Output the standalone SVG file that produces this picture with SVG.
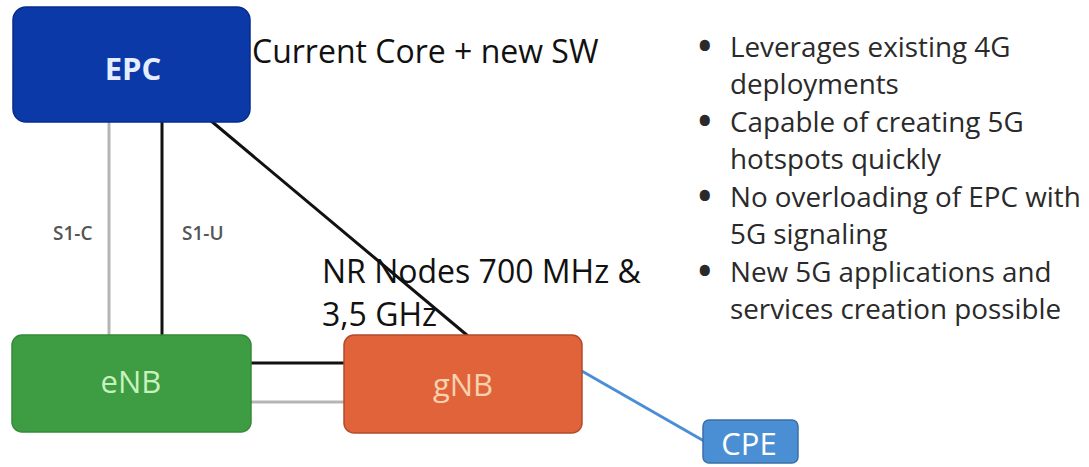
<svg xmlns="http://www.w3.org/2000/svg" width="1089" height="467" viewBox="0 0 1089 467">
  <style>
    text { font-family: "Open Sans", "Noto Sans", "Liberation Sans", sans-serif; }
    .node-label { font-size: 31px; text-anchor: middle; dominant-baseline: central; }
    .note { font-size: 32px; fill: #111; }
    .bullets { font-size: 27.8px; fill: #2a2a2a; }
    .dot { font-size: 36px; font-weight: 700; }
    .iface { font-size: 19px; fill: #555; font-weight: 600; }
  </style>

  <rect width="1089" height="467" fill="#ffffff"/>

  <!-- connectors -->
  <g id="connectors" fill="none">
    <line x1="109" y1="122" x2="109" y2="335" stroke="#b5b5b5" stroke-width="3"/>
    <line x1="162" y1="122" x2="162" y2="335" stroke="#111" stroke-width="3"/>
    <line x1="210" y1="120" x2="468" y2="336" stroke="#111" stroke-width="3"/>
    <line x1="250" y1="363" x2="344" y2="363" stroke="#111" stroke-width="3"/>
    <line x1="250" y1="402" x2="344" y2="402" stroke="#b5b5b5" stroke-width="3"/>
    <line x1="580" y1="370" x2="704" y2="441" stroke="#4a8fd6" stroke-width="3"/>
  </g>

  <!-- interface labels -->
  <text class="iface" x="53" y="240">S1-C</text>
  <text class="iface" x="182" y="240">S1-U</text>

  <g id="epc">
    <rect x="13" y="7" width="237" height="115" rx="13" fill="#0b3aa8" stroke="#092c86" stroke-width="1.5"/>
    <text class="node-label" x="133" y="68" fill="#e4eeff" font-weight="700">EPC</text>
  </g>

  <g id="enb">
    <rect x="12" y="335" width="239" height="97" rx="10" fill="#3e9c42" stroke="#358a39" stroke-width="1.5"/>
    <text class="node-label" x="131" y="381" fill="#c8f2bd">eNB</text>
  </g>

  <g id="gnb">
    <rect x="344" y="335" width="238" height="98" rx="10" fill="#e1633a" stroke="#b24b2c" stroke-width="1.5"/>
    <text class="node-label" x="463" y="384" fill="#f8d2ae">gNB</text>
  </g>

  <g id="cpe">
    <rect x="703" y="420" width="95" height="43" rx="6" fill="#4a8fd4" stroke="#3b6fa6" stroke-width="1.5"/>
    <text class="node-label" x="749" y="443" fill="#ffffff">CPE</text>
  </g>

  <!-- annotations -->
  <text class="note" x="252" y="63">Current Core + new SW</text>
  <text class="note" x="322" y="283">NR Nodes 700 MHz &amp;</text>
  <text class="note" x="322" y="326">3,5 GHz</text>

  <g class="bullets">
    <text class="dot" x="698" y="59">•</text>
    <text x="730" y="57">Leverages existing 4G</text>
    <text x="730" y="94">deployments</text>
    <text class="dot" x="698" y="134">•</text>
    <text x="730" y="132">Capable of creating 5G</text>
    <text x="730" y="169">hotspots quickly</text>
    <text class="dot" x="698" y="209">•</text>
    <text x="730" y="207">No overloading of EPC with</text>
    <text x="730" y="244">5G signaling</text>
    <text class="dot" x="698" y="284">•</text>
    <text x="730" y="282">New 5G applications and</text>
    <text x="730" y="319">services creation possible</text>
  </g>
</svg>
